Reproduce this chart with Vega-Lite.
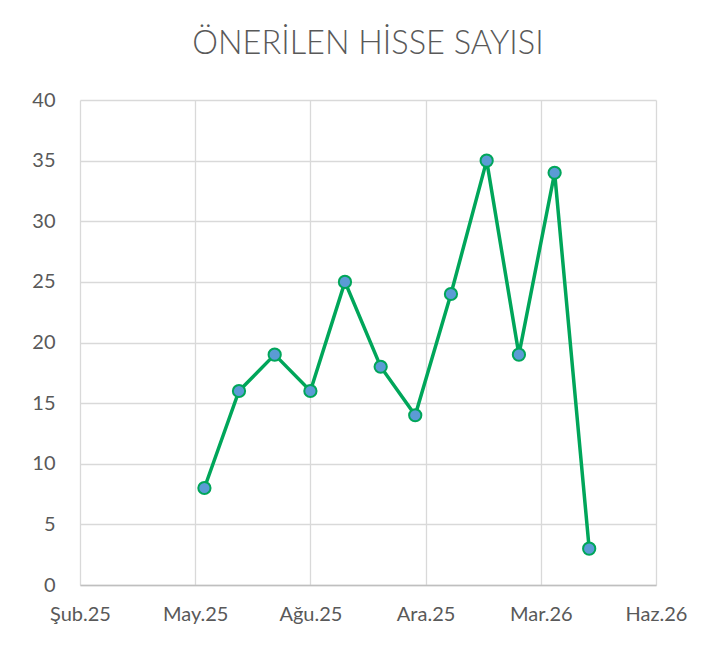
{
  "$schema": "https://vega.github.io/schema/vega-lite/v6.json",
  "width": 576,
  "height": 485,
  "autosize": "none",
  "padding": {"left": 80, "top": 100, "right": 67, "bottom": 62},
  "background": "white",
  "title": {
    "text": "ÖNERİLEN HİSSE SAYISI",
    "font": "Lato",
    "fontSize": 32.5,
    "fontWeight": 300,
    "color": "#595959",
    "anchor": "middle",
    "offset": 30
  },
  "config": {
    "view": {"stroke": null},
    "axis": {
      "labelFont": "Lato",
      "labelFontSize": 20,
      "labelColor": "#595959",
      "gridColor": "#d9d9d9",
      "gridWidth": 1.3,
      "ticks": false,
      "title": null
    }
  },
  "data": {
    "values": [
      {"date": "2025-05-31", "count": 8},
      {"date": "2025-06-30", "count": 16},
      {"date": "2025-07-31", "count": 19},
      {"date": "2025-08-31", "count": 16},
      {"date": "2025-09-30", "count": 25},
      {"date": "2025-10-31", "count": 18},
      {"date": "2025-11-30", "count": 14},
      {"date": "2025-12-31", "count": 24},
      {"date": "2026-01-31", "count": 35},
      {"date": "2026-02-28", "count": 19},
      {"date": "2026-03-31", "count": 34},
      {"date": "2026-04-30", "count": 3}
    ]
  },
  "encoding": {
    "x": {
      "field": "date",
      "type": "temporal",
      "scale": {
        "type": "utc",
        "domain": [
          {"year": 2025, "month": 2, "date": 12, "utc": true},
          {"year": 2026, "month": 6, "date": 27, "utc": true}
        ]
      },
      "axis": {
        "values": [
          {"year": 2025, "month": 2, "date": 12, "utc": true},
          {"year": 2025, "month": 5, "date": 23, "utc": true},
          {"year": 2025, "month": 8, "date": 31, "utc": true},
          {"year": 2025, "month": 12, "date": 9, "utc": true},
          {"year": 2026, "month": 3, "date": 19, "utc": true},
          {"year": 2026, "month": 6, "date": 27, "utc": true}
        ],
        "labelExpr": "['Oca','Şub','Mar','Nis','May','Haz','Tem','Ağu','Eyl','Eki','Kas','Ara'][utcmonth(datum.value)] + '.' + utcFormat(datum.value, '%y')",
        "labelPadding": 19,
        "domainColor": "#bfbfbf",
        "domainWidth": 1.5,
        "grid": true,
        "labelFlush": false,
        "labelOverlap": false
      }
    },
    "y": {
      "field": "count",
      "type": "quantitative",
      "scale": {"domain": [0, 40]},
      "axis": {
        "values": [0, 5, 10, 15, 20, 25, 30, 35, 40],
        "domain": false,
        "labelPadding": 25,
        "grid": true
      }
    }
  },
  "layer": [
    {
      "mark": {"type": "line", "color": "#00a65a", "strokeWidth": 3.5}
    },
    {
      "mark": {
        "type": "point",
        "filled": true,
        "fill": "#5b9bd5",
        "stroke": "#00a65a",
        "strokeWidth": 2,
        "size": 150,
        "opacity": 1
      }
    }
  ]
}
